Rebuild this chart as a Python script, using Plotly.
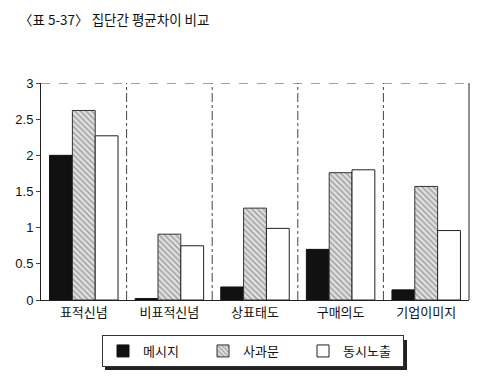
import plotly.graph_objects as go

categories = ["표적신념", "비표적신념", "상표태도", "구매의도", "기업이미지"]
series_names = ["메시지", "사과문", "동시노출"]
message = [2.0, 0.02, 0.18, 0.70, 0.14]
apology = [2.62, 0.91, 1.27, 1.76, 1.57]
combined = [2.27, 0.75, 0.99, 1.80, 0.96]
y_ticks = [0, 0.5, 1, 1.5, 2, 2.5, 3]
y_ticklabels = ["0", "0.5", "1", "1.5", "2", "2.5", "3"]

FONT = "Noto Sans CJK KR"
x = list(range(len(categories)))

fig = go.Figure()
fig.add_trace(go.Bar(
    x=x, y=message, name=series_names[0],
    marker=dict(color="#111111", line=dict(color="#111111", width=1)),
))
fig.add_trace(go.Bar(
    x=x, y=apology, name=series_names[1],
    marker=dict(color="#d8d8d8", line=dict(color="#333333", width=1),
                pattern=dict(shape="\\", fgcolor="#555555", bgcolor="#e0e0e0",
                             size=4, solidity=0.35, fillmode="overlay")),
))
fig.add_trace(go.Bar(
    x=x, y=combined, name=series_names[2],
    marker=dict(color="#ffffff", line=dict(color="#222222", width=1)),
))

def px_x(p):
    return (p - 41) / 428

def px_y(p):
    return (300 - p) / 217

shapes = []
for sep in [0.5, 1.5, 2.5, 3.5]:
    shapes.append(dict(type="line", xref="x", yref="y", x0=sep, x1=sep, y0=0, y1=3,
                       line=dict(color="#444444", width=1, dash="dashdot")))
shapes.append(dict(type="line", xref="paper", yref="y", x0=0, x1=1, y0=3, y1=3,
                   line=dict(color="#444444", width=1, dash="dash")))
shapes.append(dict(type="line", xref="paper", yref="y", x0=1, x1=1, y0=0, y1=3,
                   line=dict(color="#222222", width=1)))
# legend shadow
shapes.append(dict(type="rect", xref="paper", yref="paper",
                   x0=px_x(105), x1=px_x(407), y0=px_y(370), y1=px_y(340),
                   fillcolor="#222222", line=dict(width=0), layer="below"))

fig.update_layout(
    width=494, height=389,
    margin=dict(l=41, r=25, t=83, b=89),
    paper_bgcolor="white", plot_bgcolor="white",
    barmode="group", bargap=0.2, bargroupgap=0,
    font=dict(family=FONT, size=13, color="#111111"),
    showlegend=True,
    legend=dict(orientation="h", x=px_x(102), xanchor="left", y=px_y(335), yanchor="top",
                bgcolor="white", bordercolor="#333333", borderwidth=1,
                entrywidth=55, entrywidthmode="pixels",
                font=dict(family=FONT, size=13), traceorder="normal"),
    shapes=shapes,
    annotations=[dict(text="〈표 5-37〉 집단간 평균차이 비교", xref="paper", yref="paper",
                      x=px_x(17), y=px_y(7), xanchor="left", yanchor="top",
                      showarrow=False, font=dict(family=FONT, size=13.5, color="#111111"))],
)
fig.update_xaxes(
    tickmode="array", tickvals=x, ticktext=categories, range=[-0.5, 4.5],
    showline=True, linecolor="#222222", linewidth=1, ticks="", showgrid=False,
    tickfont=dict(family=FONT, size=13),
)
fig.update_yaxes(
    range=[0, 3], tickmode="array", tickvals=y_ticks, ticktext=y_ticklabels,
    showline=True, linecolor="#222222", linewidth=1, ticks="outside", ticklen=4,
    showgrid=False, zeroline=False, tickfont=dict(family="Liberation Sans", size=13),
)

fig.write_html("out.html")
